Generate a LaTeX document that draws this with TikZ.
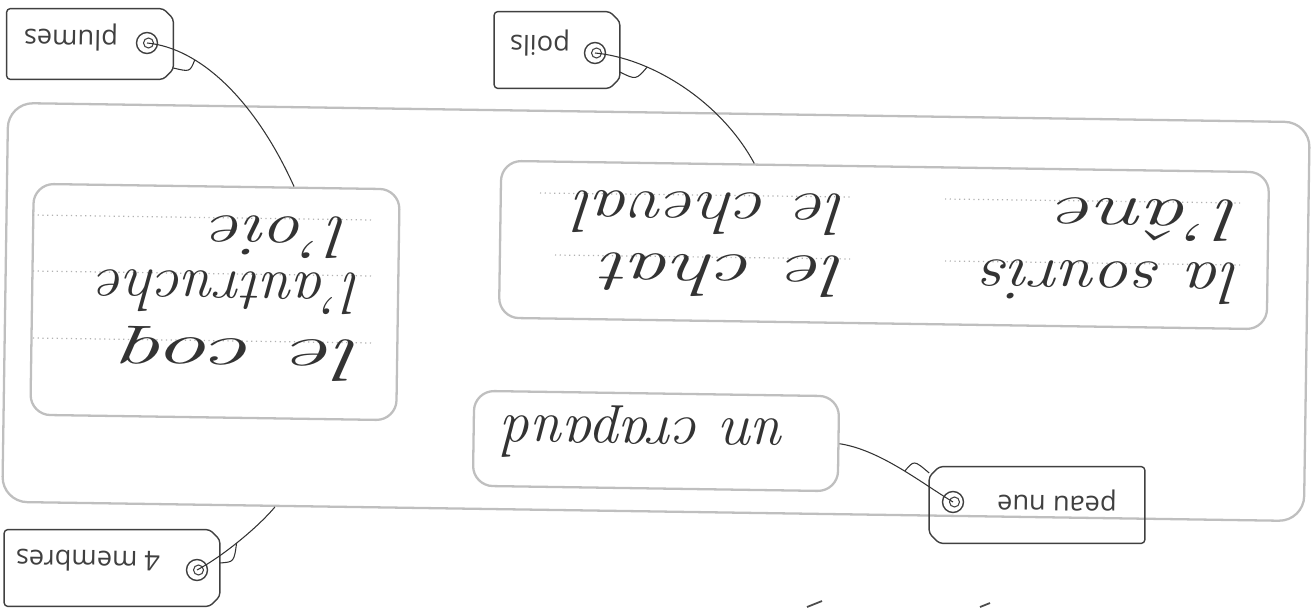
\documentclass[tikz,border=0pt]{standalone}
\usepackage{fontspec}
\usepackage{graphicx}
\newfontfamily\tagfont{Open Sans}
\usetikzlibrary{positioning,calc}

% contour d'etiquette, trou a droite ou a gauche (dans l'image)
\newcommand{\tagright}[1]{\draw[tagline] ($(#1.south west)+(-10,0)$) -- ($(#1.south west)+(0,10)$) -- ($(#1.north west)+(0,-10)$) -- ($(#1.north west)+(-10,0)$) -- (#1.north east) -- (#1.south east) -- cycle;}
\newcommand{\tagleft}[1]{\draw[tagline] ($(#1.south east)+(10,0)$) -- (#1.south west) -- (#1.north west) -- ($(#1.north east)+(10,0)$) -- ($(#1.north east)+(0,-10)$) -- ($(#1.south east)+(0,10)$) -- cycle;}
\newcommand{\etire}[2]{\scalebox{#1}[1]{#2}}

\begin{document}
\begin{tikzpicture}[x=0.02cm,y=-0.02cm]
        \tikzstyle{every node}=[inner sep=0pt]
        \tikzstyle{box}=[draw=gray!50, line width=1.3pt, rounded corners=0.4cm, rotate=-0.85]
        \tikzstyle{tag}=[rectangle, rotate=180]
        \tikzstyle{tagline}=[draw=black!75, line width=0.8pt, rounded corners=2pt]
        \tikzstyle{tagtext}=[font=\tagfont\fontsize{15.5}{17}\selectfont, text=black!75, rotate=179.15]
        \tikzstyle{hand}=[font=\fontsize{34}{34}\selectfont\itshape, text=black!80, rotate=179.15, anchor=base west]
        \tikzstyle{hole}=[circle, draw=black!75, line width=0.8pt, minimum size=0.42cm,
            path picture={\draw[black!75, line width=0.6pt] ([xshift=0.03cm]path picture bounding box.center) circle (0.1cm);}]
        \tikzstyle{string}=[draw=black!80, line width=0.6pt]
        \tikzstyle{rule}=[draw=gray!60, dotted, line width=0.7pt]

        \useasboundingbox (0,0) rectangle (1316,608);

        % grands cadres
        \node (groupe) [box, rounded corners=0.5cm, minimum width=26.04cm, minimum height=7.98cm] at (656,312) {};
        \node (oiseaux) [box, minimum width=7.32cm, minimum height=4.62cm] at (215,302) {};
        \node (mammiferes) [box, minimum width=15.36cm, minimum height=3.14cm] at (884,245) {};
        \node (crapaud) [box, minimum width=7.3cm, minimum height=1.9cm] at (656,441) {};

        % lignes d'ecriture
        \draw[rule] (33,215) -- (372,220);
        \draw[rule] (33,271) -- (372,276);
        \draw[rule] (33,338) -- (372,343);
        \draw[rule] (540,193) -- (850,197);
        \draw[rule] (945,199) -- (1240,203);
        \draw[rule] (555,255) -- (850,259);
        \draw[rule] (945,261) -- (1240,265);

        \node (oie)      [hand] at (350,218) {\etire{1.28}{l'oie}};
        \node (autruche) [hand] at (362,274) {\etire{1.04}{l'autruche}};
        \node (coq)      [hand] at (364,341) {\etire{1.7}{le coq}};
        \node (cheval)   [hand] at (848,195) {\etire{1.24}{le cheval}};
        \node (chat)     [hand] at (848,257) {\etire{1.45}{le chat}};
        \node (ane)      [hand] at (1242,201) {\etire{1.5}{l'âne}};
        \node (souris)   [hand] at (1242,264) {\etire{1.19}{la souris}};
        \node (un-crapaud) [hand] at (788,420) {un crapaud};

        % etiquettes
        \node (plumes) [tag, minimum width=3.32cm, minimum height=1.4cm] at (90,44) {};
        \tagright{plumes}
        \node (plumes-txt) [tagtext] at (71,37) {plumes};
        \node (plumes-hole) [hole] at (147,43) {};

        \node (poils) [tag, minimum width=2.5cm, minimum height=1.52cm] at (557,50) {};
        \tagright{poils}
        \node (poils-txt) [tagtext] at (540,43) {poils};
        \node (poils-hole) [hole] at (595,53) {};

        \node (membres) [tag, minimum width=4.3cm, minimum height=1.52cm] at (112,568) {};
        \tagright{membres}
        \node (membres-txt) [tagtext] at (88,561) {4 membres};
        \node (membres-hole) [hole] at (197,570) {};

        \node (peau) [tag, minimum width=4.3cm, minimum height=1.52cm] at (1037,505) {};
        \tagleft{peau}
        \node (peau-txt) [tagtext] at (1057,500) {peau nue};
        \node (peau-hole) [hole] at (953,502) {};

        % ficelles
        \draw[string] (plumes-hole.center) .. controls (200,48) and (255,100) .. ($(oiseaux.north west)!0.71!(oiseaux.north east)$) coordinate[pos=0.3] (plumes-knot);
        \draw[string] ($(plumes.west)+(0,24)$) .. controls (190,72) .. (plumes-knot);

        \draw[string] (poils-hole.center) .. controls (650,58) and (720,100) .. ($(mammiferes.north west)!0.33!(mammiferes.north east)$) coordinate[pos=0.3] (poils-knot);
        \draw[string] ($(poils.west)+(0,22)$) .. controls (636,80) .. (poils-knot);

        \draw[string] (membres-hole.center) .. controls (225,555) and (260,525) .. ($(groupe.south west)!0.21!(groupe.south east)$) coordinate[pos=0.45] (membres-knot);
        \draw[string] ($(membres.west)+(0,-5)$) .. controls (234,562) .. (membres-knot);

        \draw[string] (peau-hole.center) .. controls (920,482) and (880,450) .. (crapaud.east) coordinate[pos=0.45] (peau-knot);
        \draw[string] ($(peau.east)+(0,-32)$) .. controls (914,460) .. (peau-knot);

        % traits de crayon en bas
        \draw[black!70, line width=1pt] (807,607) -- (822,601);
        \draw[black!70, line width=1pt] (980,607) -- (990,603);
    \end{tikzpicture}
\end{document}
